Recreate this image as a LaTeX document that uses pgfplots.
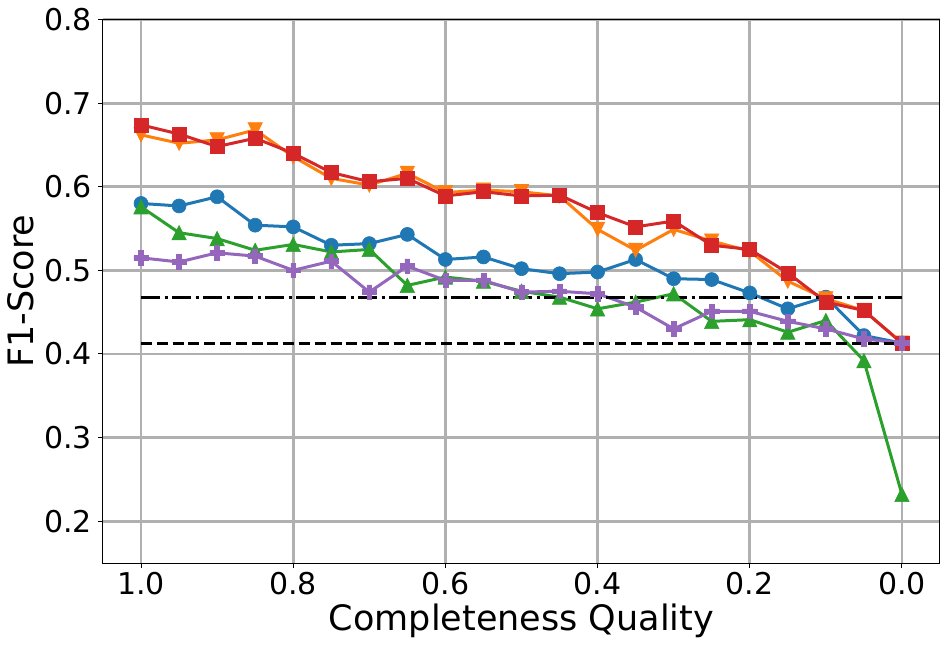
\documentclass[border=0pt]{standalone}
\usepackage{fontspec}
\setmainfont{DejaVu Sans}
\usepackage{pgfplots}
\pgfplotsset{compat=1.18}
\usepackage{pgfplotstable}

\definecolor{c0}{HTML}{1F77B4}
\definecolor{c1}{HTML}{FF7F0E}
\definecolor{c2}{HTML}{2CA02C}
\definecolor{c3}{HTML}{D62728}
\definecolor{c4}{HTML}{9467BD}
\definecolor{gridgray}{HTML}{B0B0B0}

\pgfdeclareplotmark{Pplus}{%
  \pgfpathmoveto{\pgfpoint{-0.3333\pgfplotmarksize}{-\pgfplotmarksize}}%
  \pgfpathlineto{\pgfpoint{0.3333\pgfplotmarksize}{-\pgfplotmarksize}}%
  \pgfpathlineto{\pgfpoint{0.3333\pgfplotmarksize}{-0.3333\pgfplotmarksize}}%
  \pgfpathlineto{\pgfpoint{\pgfplotmarksize}{-0.3333\pgfplotmarksize}}%
  \pgfpathlineto{\pgfpoint{\pgfplotmarksize}{0.3333\pgfplotmarksize}}%
  \pgfpathlineto{\pgfpoint{0.3333\pgfplotmarksize}{0.3333\pgfplotmarksize}}%
  \pgfpathlineto{\pgfpoint{0.3333\pgfplotmarksize}{\pgfplotmarksize}}%
  \pgfpathlineto{\pgfpoint{-0.3333\pgfplotmarksize}{\pgfplotmarksize}}%
  \pgfpathlineto{\pgfpoint{-0.3333\pgfplotmarksize}{0.3333\pgfplotmarksize}}%
  \pgfpathlineto{\pgfpoint{-\pgfplotmarksize}{0.3333\pgfplotmarksize}}%
  \pgfpathlineto{\pgfpoint{-\pgfplotmarksize}{-0.3333\pgfplotmarksize}}%
  \pgfpathlineto{\pgfpoint{-0.3333\pgfplotmarksize}{-0.3333\pgfplotmarksize}}%
  \pgfpathclose
  \pgfusepathqfillstroke}
\pgfdeclareplotmark{Tup}{%
  \pgfpathmoveto{\pgfpoint{0pt}{\pgfplotmarksize}}%
  \pgfpathlineto{\pgfpoint{-\pgfplotmarksize}{-\pgfplotmarksize}}%
  \pgfpathlineto{\pgfpoint{\pgfplotmarksize}{-\pgfplotmarksize}}%
  \pgfpathclose
  \pgfusepathqfillstroke}
\pgfdeclareplotmark{Tdown}{%
  \pgfpathmoveto{\pgfpoint{0pt}{-\pgfplotmarksize}}%
  \pgfpathlineto{\pgfpoint{-\pgfplotmarksize}{\pgfplotmarksize}}%
  \pgfpathlineto{\pgfpoint{\pgfplotmarksize}{\pgfplotmarksize}}%
  \pgfpathclose
  \pgfusepathqfillstroke}

\pgfplotstableread{
q    b     o     g     r     p
1.00 0.580 0.662 0.576 0.674 0.515
0.95 0.577 0.652 0.545 0.663 0.510
0.90 0.588 0.656 0.538 0.648 0.521
0.85 0.554 0.668 0.524 0.658 0.517
0.80 0.552 0.636 0.531 0.640 0.500
0.75 0.530 0.610 0.522 0.617 0.511
0.70 0.532 0.602 0.525 0.606 0.474
0.65 0.543 0.616 0.482 0.610 0.505
0.60 0.513 0.593 0.492 0.589 0.488
0.55 0.516 0.596 0.487 0.594 0.488
0.50 0.502 0.594 0.475 0.589 0.474
0.45 0.496 0.589 0.468 0.590 0.475
0.40 0.498 0.549 0.454 0.569 0.472
0.35 0.513 0.524 0.462 0.552 0.456
0.30 0.490 0.549 0.472 0.559 0.430
0.25 0.489 0.535 0.439 0.530 0.451
0.20 0.473 0.523 0.441 0.525 0.451
0.15 0.454 0.487 0.426 0.497 0.439
0.10 0.468 0.466 0.440 0.462 0.430
0.05 0.422 0.452 0.392 0.452 0.418
0.00 0.413 0.413 0.232 0.413 0.413
}\data

\begin{document}
\begin{tikzpicture}
\useasboundingbox (-103pt,-83pt) rectangle (844pt,563pt);
\begin{axis}[
  at={(0pt,0pt)}, anchor=south west,
  scale only axis, width=837pt, height=543.5pt,
  xmin=-0.05, xmax=1.05, ymin=0.15, ymax=0.8,
  x dir=reverse,
  xtick={0,0.2,0.4,0.6,0.8,1.0},
  ytick={0.2,0.3,0.4,0.5,0.6,0.7,0.8},
  /pgf/number format/assume math mode=true,
  /pgf/number format/.cd, fixed, fixed zerofill, precision=1, /pgfplots/.cd,
  grid=major,
  major grid style={color=gridgray, line width=2.9pt},
  axis line style={line width=1pt, black},
  tick style={line width=1pt, black},
  major tick length=5pt,
  tick align=outside,
  tick pos=left,
  x tick label style={font=\fontsize{30}{36}\selectfont, inner sep=0pt, anchor=north, yshift=-3.7pt},
  y tick label style={font=\fontsize{30}{36}\selectfont, inner sep=0pt, anchor=east, xshift=-6pt},
  xlabel={Completeness Quality},
  ylabel={F1-Score},
  xlabel style={font=\fontsize{35}{42}\selectfont, inner sep=0pt, anchor=base, at={(axis description cs:0.5,-0.1246)}},
  ylabel style={font=\fontsize{35}{42}\selectfont, inner sep=0pt, anchor=base, at={(axis description cs:-0.0836,0.5)}},
]
\addplot[c0, line width=3pt, mark=*, mark size=7pt, mark options={solid, line width=0.6pt}] table[x=q,y=b]{\data};
\addplot[c1, line width=3pt, mark=Tdown, mark size=7.2pt, mark options={solid, line width=0.6pt}] table[x=q,y=o]{\data};
\addplot[c2, line width=3pt, mark=Tup, mark size=7.2pt, mark options={solid, line width=0.6pt}] table[x=q,y=g]{\data};
\addplot[c3, line width=3pt, mark=square*, mark size=7pt, mark options={solid, line width=0.6pt}] table[x=q,y=r]{\data};
\addplot[c4, line width=3pt, mark=Pplus, mark size=7.2pt, mark options={solid, line width=0.6pt}] table[x=q,y=p]{\data};
\addplot[black, line width=2.9pt, dash pattern=on 19pt off 4.5pt on 3pt off 4.5pt] coordinates {(1.0,0.467) (0.0,0.467)};
\addplot[black, line width=2.9pt, dash pattern=on 11pt off 4.8pt] coordinates {(1.0,0.412) (0.0,0.412)};
\end{axis}
\end{tikzpicture}
\end{document}
